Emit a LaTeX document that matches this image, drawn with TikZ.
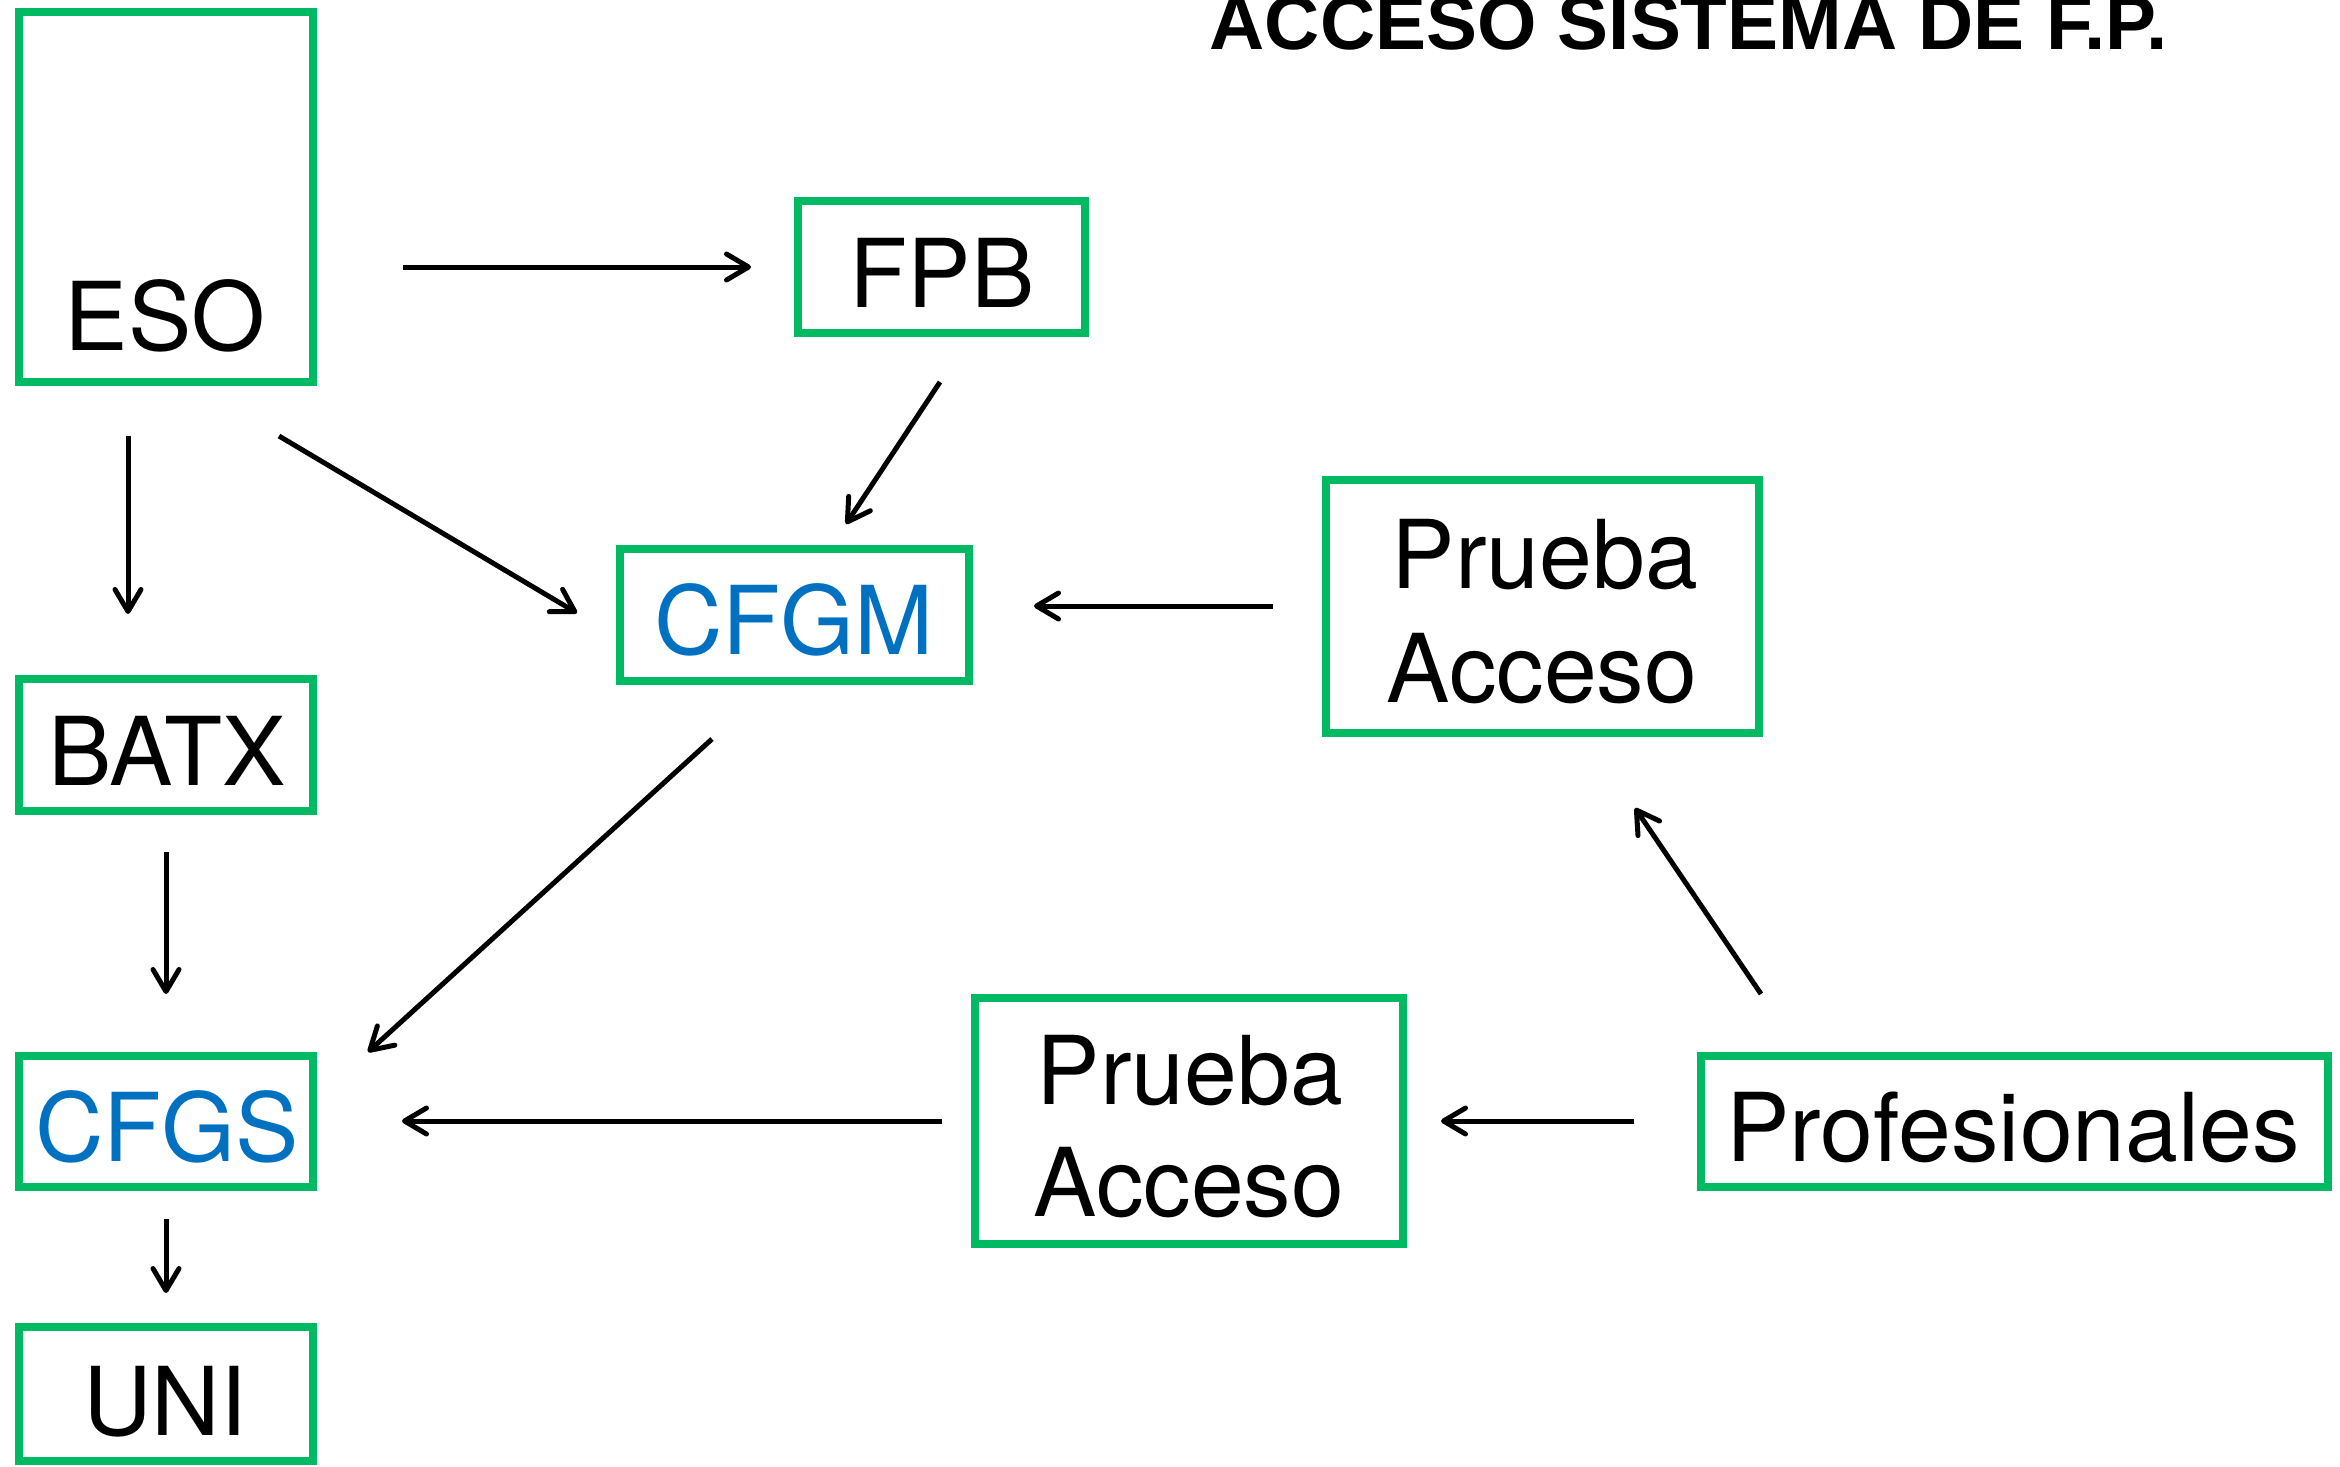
\documentclass[tikz,border=0pt]{standalone}
\usepackage{fontspec}
\setmainfont{TeX Gyre Heros}
\newfontfamily\titlefont{Liberation Sans}
\usetikzlibrary{arrows.meta}
\definecolor{boxgreen}{RGB}{0,186,99}
\definecolor{txtblue}{RGB}{0,112,192}
\begin{document}
\begin{tikzpicture}[x=0.25pt,y=-0.25pt,
  box/.style={draw=boxgreen,line width=2pt,inner sep=0pt,rectangle},
  lbl/.style={anchor=base,inner sep=0pt,font=\fontsize{23.75}{28.5}\selectfont},
  arr/.style={line width=1.25pt,-{Straight Barb[length=5.5pt,width=6.5pt,round]}}]
\useasboundingbox (0,0) rectangle (2340,1466);
% title
\node[anchor=base west,inner sep=0pt,font=\titlefont\bfseries\fontsize{19.1}{22}\selectfont] (title) at (1209,50) {ACCESO SISTEMA DE F.P.};
% boxes
\node[box,minimum width=73.5pt,minimum height=92.5pt] (eso) at (166,197) {};
\node[box,minimum width=71.75pt,minimum height=33pt] (fpb) at (941.5,267) {};
\node[box,minimum width=87.25pt,minimum height=33pt] (cfgm) at (794.5,615) {};
\node[box,minimum width=108.25pt,minimum height=63.25pt] (pat) at (1542.5,606.5) {};
\node[box,minimum width=73.5pt,minimum height=33pt] (batx) at (166,745) {};
\node[box,minimum width=73.5pt,minimum height=32.75pt] (cfgs) at (166,1121.5) {};
\node[box,minimum width=73.5pt,minimum height=33.5pt] (uni) at (166,1394) {};
\node[box,minimum width=107pt,minimum height=61.5pt] (pab) at (1189,1121) {};
\node[box,minimum width=156.75pt,minimum height=32.75pt] (prof) at (2014.5,1121.5) {};
% texts
\node[lbl] (esot) at (165,350) {ESO};
\node[lbl] (fpbt) at (942,307) {FPB};
\node[lbl,text=txtblue] (cfgmt) at (794,654) {CFGM};
\node[lbl] (pat1) at (1545,588) {Prueba};
\node[lbl] (pat2) at (1542,702) {Acceso};
\node[lbl] (batxt) at (167,785) {BATX};
\node[lbl,text=txtblue] (cfgst) at (167,1161) {CFGS};
\node[lbl] (unit) at (165,1435) {UNI};
\node[lbl] (pab1) at (1190,1104) {Prueba};
\node[lbl] (pab2) at (1189,1216) {Acceso};
\node[lbl] (proft) at (2013,1161) {Profesionales};
% arrow end points
\coordinate (a1s) at (403,267);  \coordinate (a1e) at (751,267);
\coordinate (a2s) at (940,382);  \coordinate (a2e) at (846,524);
\coordinate (a3s) at (279,436);  \coordinate (a3e) at (577,613);
\coordinate (a4s) at (128,436);  \coordinate (a4e) at (128,614);
\coordinate (a5s) at (1273,606); \coordinate (a5e) at (1034,606);
\coordinate (a6s) at (712,739);  \coordinate (a6e) at (368,1052);
\coordinate (a7s) at (166,852);  \coordinate (a7e) at (166,994);
\coordinate (a8s) at (166,1219); \coordinate (a8e) at (166,1293);
\coordinate (a9s) at (942,1121); \coordinate (a9e) at (402,1121);
\coordinate (a10s) at (1634,1121); \coordinate (a10e) at (1441,1121);
\coordinate (a11s) at (1761,994);  \coordinate (a11e) at (1635,808);
% arrows
\draw[arr] (a1s) -- (a1e);
\draw[arr] (a2s) -- (a2e);
\draw[arr] (a3s) -- (a3e);
\draw[arr] (a4s) -- (a4e);
\draw[arr] (a5s) -- (a5e);
\draw[arr] (a6s) -- (a6e);
\draw[arr] (a7s) -- (a7e);
\draw[arr] (a8s) -- (a8e);
\draw[arr] (a9s) -- (a9e);
\draw[arr] (a10s) -- (a10e);
\draw[arr] (a11s) -- (a11e);
\end{tikzpicture}
\end{document}
